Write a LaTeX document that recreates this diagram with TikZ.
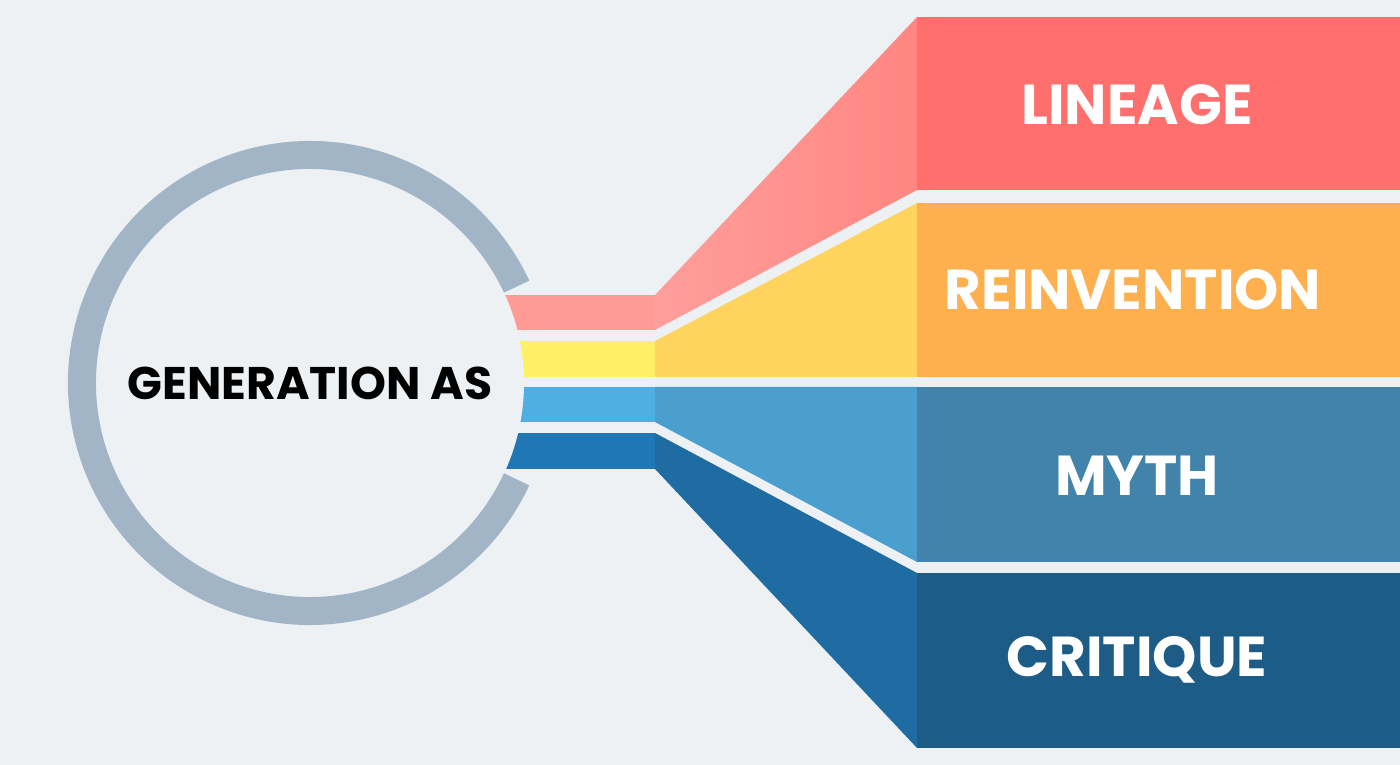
\documentclass[tikz,border=0pt]{standalone}
\usepackage{fontspec}
\setmainfont{Poppins}
\usepackage{xcolor}
\definecolor{bg}{HTML}{EDF1F4}
\definecolor{ring}{HTML}{A1B5C6}
\definecolor{redA}{HTML}{FF9A94}
\definecolor{redB}{HTML}{FF8682}
\definecolor{redC}{HTML}{FF6F6E}
\definecolor{yelA}{HTML}{FFF066}
\definecolor{yelB}{HTML}{FFD45E}
\definecolor{yelC}{HTML}{FFB04E}
\definecolor{ltA}{HTML}{4FAEE3}
\definecolor{ltB}{HTML}{4A9FCF}
\definecolor{ltC}{HTML}{4283AB}
\definecolor{dkA}{HTML}{2176B4}
\definecolor{dkB}{HTML}{1F6CA3}
\definecolor{dkC}{HTML}{1E5C88}
\tikzstyle{label} = [text=white, font=\bfseries\fontsize{16}{19}\selectfont, anchor=center]
\tikzstyle{centre} = [text=black, font=\bfseries\fontsize{13}{16}\selectfont, anchor=center]

\begin{document}
\begin{tikzpicture}[x=0.01cm, y=-0.01cm]
    \fill[bg] (0,0) rectangle (1400,765);
    \useasboundingbox (0,0) rectangle (1400,765);
    % left bands
    \fill[redA] (480,295) rectangle (655,330);
    \fill[yelA] (480,341) rectangle (655,377);
    \fill[ltA] (480,387) rectangle (655,422);
    \fill[dkA] (480,433) rectangle (655,469);
    % funnels
    \shade[left color=redB!80!white, right color=redB] (655,295) -- (917,17) -- (917,190) -- (655,330) -- cycle;
    \fill[yelB] (655,341) -- (917,203) -- (917,377) -- (655,377) -- cycle;
    \fill[ltB] (655,387) -- (917,387) -- (917,562) -- (655,422) -- cycle;
    \fill[dkB] (655,433) -- (917,573) -- (917,748) -- (655,469) -- cycle;
    % boxes
    \fill[redC] (917,17) rectangle (1400,190);
    \fill[yelC] (917,203) rectangle (1400,377);
    \fill[ltC] (917,387) rectangle (1400,562);
    \fill[dkC] (917,573) rectangle (1400,748);
    % circle
    \fill[bg] (310,383) circle (214);
    \draw[ring, line width=28*0.01cm] (310,383) ++(25:228) arc[start angle=25, end angle=335, radius=228];

    \node (gen) [centre] at (310,383) {GENERATION AS};
    \node (lineage) [label] at (1137,105) {LINEAGE};
    \node (reinv) [label] at (1133,290) {REINVENTION};
    \node (myth) [label] at (1137,476) {MYTH};
    \node (critique) [label] at (1137,660) {CRITIQUE};
\end{tikzpicture}
\end{document}
